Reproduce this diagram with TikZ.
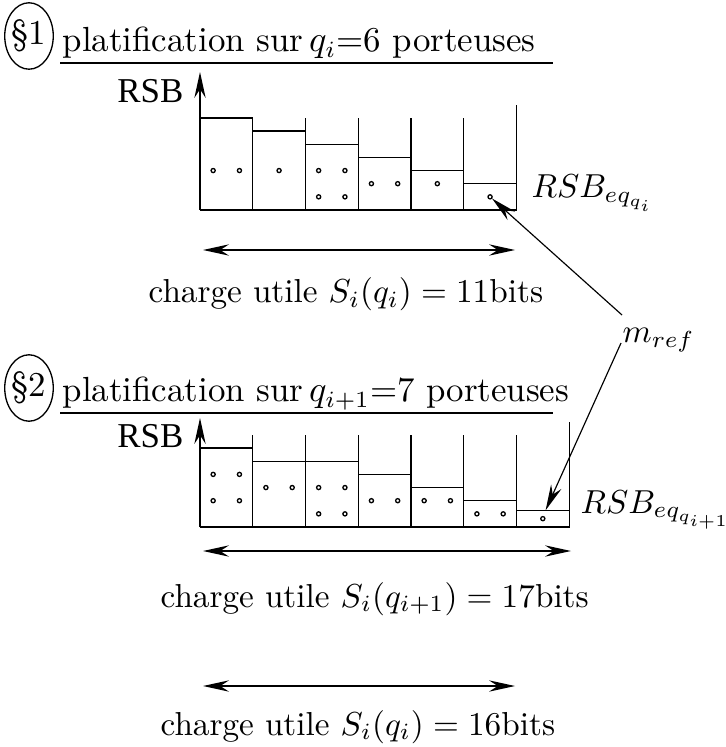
\documentclass[tikz,border=0pt]{standalone}
\usepackage{fontspec}
\newfontfamily\timesf{Liberation Serif}
\usetikzlibrary{arrows.meta,shapes.geometric,calc}
\begin{document}
\begin{tikzpicture}[x=0.301pt,y=-0.301pt,
  box/.style={line width=0.42pt},
  bit/.style={line width=0.4pt},
  uline/.style={line width=0.65pt},
  headtip/.style={-{Stealth[length=7.8pt,width=3.4pt,inset=2.6pt]}},
  dbl/.style={line width=0.45pt,{Stealth[length=7.8pt,width=3.4pt,inset=2.6pt]}-{Stealth[length=7.8pt,width=3.4pt,inset=2.6pt]}},
  ptr/.style={line width=0.35pt,-{Stealth[length=7.8pt,width=3.4pt,inset=2.6pt]}},
  lbl/.style={inner sep=0pt},
  ttl/.style={inner sep=0pt,font=\fontsize{10.5}{12}\selectfont},
  rsb/.style={inner sep=0pt,font=\timesf\fontsize{10.5}{12}\selectfont},
  sect/.style={draw,ellipse,line width=0.4pt,minimum width=13pt,minimum height=20pt,inner sep=0pt,font=\fontsize{10.5}{12}\selectfont},
  ]
\useasboundingbox (0,0) rectangle (725,747);

% ---------- section 1 ----------
\node[sect] (s1) at (29,36) {\S1};
\node[ttl,anchor=base west] (t1) at (62,52) {platification sur\,$q_i$=6 porteuses};
\draw[uline] (60,63) -- (553,63);
\node[rsb,anchor=base east] (r1) at (184,103) {RSB};

% chart 1 (6 carriers)
\foreach \k/\h in {0/7,1/6,2/5,3/4,4/3,5/2}
  \draw[box] ({200+\k*52.75},{210-\h*13.15}) -- ++(52.75,0);
\foreach \k in {1,...,5}
  \draw[box] ({200+\k*52.75},210) -- ({200+\k*52.75},{210-7*13.15});
\draw[box] (200,210) -- (516.5,210) -- (516.5,{210-8*13.15});
\draw[box,headtip] (200,210) -- (200,72);
\foreach \c/\d/\n in {0/1/3,0/3/3,1/2/3,2/1/3,2/3/3,2/1/1,2/3/1,3/1/2,3/3/2,4/2/2,5/2/1}
  \draw[bit] ({200+\c*52.75+\d*13.15},{210-\n*13.15}) circle[radius=0.62pt];

\node[lbl,anchor=base west] (e1) at (531,198) {$RSB_{eq_{q_i}}$};

\coordinate (a1l) at (203,250);
\coordinate (a1r) at (515,250);
\draw[dbl] (a1l) -- (a1r);
\node[lbl,anchor=base west] (c1) at (148,303) {charge utile $S_i(q_i) = 11$bits};

% ---------- m_ref ----------
\node[lbl,anchor=base west] (mref) at (622,343) {$m_{ref}$};
\coordinate (dotA) at (492,198.5);
\coordinate (dotB) at (545.6,510.3);
\draw[ptr] ($(mref.base west)+(0,-28)$) -- (dotA);
\draw[ptr] ($(mref.base west)+(-1,0)$) -- (dotB);

% ---------- section 2 ----------
\node[sect] (s2) at (29,388) {\S2};
\node[ttl,anchor=base west] (t2) at (62,401.7) {platification sur\,$q_{i+1}$=7 porteuses};
\draw[uline] (60,412.7) -- (553,412.7);
\node[rsb,anchor=base east] (r2) at (184,447) {RSB};

% chart 2 (7 carriers)
\foreach \k/\h in {0/6,1/5,2/5,3/4,4/3,5/2,6/1.27}
  \draw[box] ({200+\k*52.75},{527-\h*13.15}) -- ++(52.75,0);
\foreach \k in {1,...,6}
  \draw[box] ({200+\k*52.75},527) -- ({200+\k*52.75},{527-7*13.15});
\draw[box] (200,527) -- (569.25,527) -- (569.25,{527-8*13.15});
\draw[box,headtip] (200,527) -- (200,418);
\foreach \c/\d/\n in {0/1/4,0/3/4,0/1/2,0/3/2,1/1/3,1/3/3,2/1/3,2/3/3,2/1/1,2/3/1,3/1/2,3/3/2,4/1/2,4/3/2,5/1/1,5/3/1,6/2/0.635}
  \draw[bit] ({200+\c*52.75+\d*13.15},{527-\n*13.15}) circle[radius=0.62pt];

\node[lbl,anchor=base west] (e2) at (580,513) {$RSB_{eq_{q_{i+1}}}$};

\coordinate (a2l) at (203,551);
\coordinate (a2r) at (571,551);
\draw[dbl] (a2l) -- (a2r);
\node[lbl,anchor=base west] (c2) at (160,607) {charge utile $S_i(q_{i+1}) = 17$bits};

\coordinate (a3l) at (203,686);
\coordinate (a3r) at (515,686);
\draw[dbl] (a3l) -- (a3r);
\node[lbl,anchor=base west] (c3) at (160,735) {charge utile $S_i(q_i) = 16$bits};
\end{tikzpicture}
\end{document}
